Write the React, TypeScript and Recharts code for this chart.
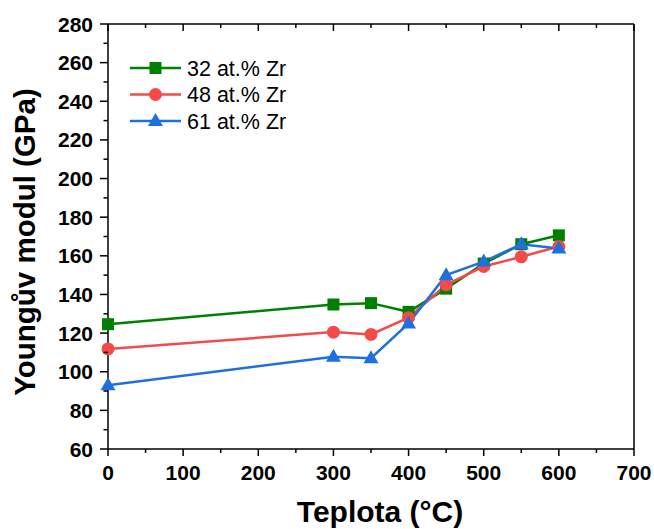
import React from 'react'
import { LineChart, Line, XAxis, YAxis, Legend, Label } from 'recharts'

const temps = [0, 300, 350, 400, 450, 500, 550, 600]
const zr32 = [124.6, 134.8, 135.5, 131, 143, 156, 166, 170.6]
const zr48 = [111.8, 120.5, 119.3, 128, 145, 154.5, 159.5, 164.8]
const zr61 = [93, 107.8, 107, 125, 150, 157, 166, 163.8]

const xTicks = [0, 50, 100, 150, 200, 250, 300, 350, 400, 450, 500, 550, 600, 650, 700]
const yTicks = [60, 70, 80, 90, 100, 110, 120, 130, 140, 150, 160, 170, 180, 190, 200, 210, 220, 230, 240, 250, 260, 270, 280]

const series = [
  { key: 'zr32', name: '32 at.% Zr', color: '#008000', shape: 'square' },
  { key: 'zr48', name: '48 at.% Zr', color: '#F44A4A', shape: 'circle' },
  { key: 'zr61', name: '61 at.% Zr', color: '#1E6FE0', shape: 'triangle' },
]

const data = temps.map((t, i) => ({ t, zr32: zr32[i], zr48: zr48[i], zr61: zr61[i] }))

const font = '"Liberation Sans", Arial, sans-serif'

function Marker({ cx, cy, shape, color }: any) {
  if (cx == null || cy == null) return null
  if (shape === 'square') return <rect x={cx - 6} y={cy - 6} width={12} height={12} fill={color} />
  if (shape === 'circle') return <circle cx={cx} cy={cy} r={6.5} fill={color} />
  return <polygon points={`${cx},${cy - 8} ${cx - 7.5},${cy + 5} ${cx + 7.5},${cy + 5}`} fill={color} />
}

const XTick = ({ x, y, payload }: any) => {
  const major = payload.value % 100 === 0
  return (
    <g>
      <line x1={x} y1={y} x2={x} y2={y + (major ? 7 : 4)} stroke="#000" strokeWidth={1.5} />
      {major && (
        <text x={x} y={y + 31} textAnchor="middle" fontSize={21} fontWeight="bold" fontFamily={font} fill="#000">
          {payload.value}
        </text>
      )}
    </g>
  )
}

const YTick = ({ x, y, payload }: any) => {
  const major = payload.value % 20 === 0
  return (
    <g>
      <line x1={x} y1={y} x2={x - (major ? 8 : 4.5)} y2={y} stroke="#000" strokeWidth={1.5} />
      {major && (
        <text x={x - 15} y={y} dy="0.36em" textAnchor="end" fontSize={21} fontWeight="bold" fontFamily={font} fill="#000">
          {payload.value}
        </text>
      )}
    </g>
  )
}

const TopTick = ({ x, y, payload }: any) => {
  const major = payload.value % 100 === 0
  return <line x1={x} y1={y} x2={x} y2={y + (major ? 7 : 4)} stroke="#000" strokeWidth={1.5} />
}

const RightTick = ({ x, y, payload }: any) => {
  const major = payload.value % 20 === 0
  return <line x1={x} y1={y} x2={x - (major ? 8 : 4.5)} y2={y} stroke="#000" strokeWidth={1.5} />
}

const XTitle = () => (
  <text x={380} y={522} textAnchor="middle" fontSize={30} fontWeight="bold" fontFamily={font} fill="#000">
    Teplota (°C)
  </text>
)

const YTitle = () => (
  <text transform="translate(35,242) rotate(-90)" textAnchor="middle" fontSize={29.5} fontWeight="bold" fontFamily={font} fill="#000">
    Youngův modul (GPa)
  </text>
)

const LegendBox = () => (
  <svg width={220} height={90}>
    {series.map((s, i) => {
      const y = 18 + i * 26.5
      return (
        <g key={s.key}>
          <line x1={10} y1={y} x2={61} y2={y} stroke={s.color} strokeWidth={2.5} />
          <Marker cx={35.5} cy={y} shape={s.shape} color={s.color} />
          <text x={67} y={y} dy="0.36em" fontSize={21.5} fontFamily={font} fill="#000">{s.name}</text>
        </g>
      )
    })}
  </svg>
)

export default function App() {
  return (
    <div style={{ position: 'absolute', left: 0, top: 0, background: '#fff' }}>
      <LineChart width={654} height={529} data={data} margin={{ top: 24, right: 20, left: 0, bottom: 0 }}>
        <XAxis
          dataKey="t"
          type="number"
          domain={[0, 700]}
          ticks={xTicks}
          interval={0}
          tickSize={0}
          tickMargin={0}
          tickLine={false}
          tick={XTick}
          height={80}
          axisLine={{ stroke: '#000', strokeWidth: 1.5 }}
        >
          <Label content={XTitle} />
        </XAxis>
        <XAxis
          xAxisId="top"
          dataKey="t"
          type="number"
          orientation="top"
          mirror
          domain={[0, 700]}
          ticks={xTicks}
          interval={0}
          tickSize={0}
          tickMargin={0}
          tickLine={false}
          tick={TopTick}
          axisLine={{ stroke: '#000', strokeWidth: 1.5 }}
        />
        <YAxis
          type="number"
          domain={[60, 280]}
          ticks={yTicks}
          interval={0}
          tickSize={0}
          tickMargin={0}
          tickLine={false}
          tick={YTick}
          width={108}
          axisLine={{ stroke: '#000', strokeWidth: 1.5 }}
        >
          <Label content={YTitle} />
        </YAxis>
        <YAxis
          yAxisId="right"
          type="number"
          orientation="right"
          mirror
          domain={[60, 280]}
          ticks={yTicks}
          interval={0}
          tickSize={0}
          tickMargin={0}
          tickLine={false}
          tick={RightTick}
          axisLine={{ stroke: '#000', strokeWidth: 1.5 }}
        />
        <Legend
          layout="horizontal"
          verticalAlign="middle"
          content={LegendBox}
          wrapperStyle={{ left: 120, top: 50, width: 220 }}
        />
        {series.map((s) => (
          <Line
            key={s.key}
            dataKey={s.key}
            name={s.name}
            stroke={s.color}
            strokeWidth={2.5}
            isAnimationActive={false}
            dot={(p: any) => <Marker key={p.index} cx={p.cx} cy={p.cy} shape={s.shape} color={s.color} />}
          />
        ))}
      </LineChart>
    </div>
  )
}
